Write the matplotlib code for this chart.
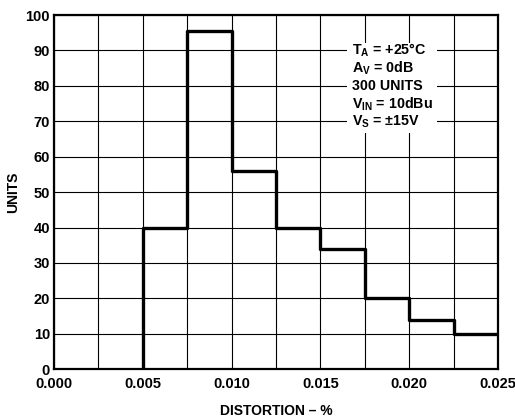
import numpy as np
import matplotlib
matplotlib.use("Agg")
import matplotlib.pyplot as plt
from matplotlib.patches import Rectangle

plt.rcParams["font.family"] = ["Liberation Sans", "DejaVu Sans"]
plt.rcParams["font.weight"] = "bold"
plt.rcParams["mathtext.fontset"] = "custom"
plt.rcParams["mathtext.rm"] = "Liberation Sans:bold"
plt.rcParams["mathtext.it"] = "Liberation Sans:bold"
plt.rcParams["mathtext.bf"] = "Liberation Sans:bold"

# histogram bins (distortion %) and unit counts
bin_edges = [0.005, 0.0075, 0.010, 0.0125, 0.015, 0.0175, 0.020, 0.0225, 0.025]
counts = [40, 95.5, 56, 40, 34, 20, 14, 10]

x_ticks = [0.000, 0.0025, 0.005, 0.0075, 0.010, 0.0125, 0.015, 0.0175, 0.020, 0.0225, 0.025]
x_labels = ["0.000", "", "0.005", "", "0.010", "", "0.015", "", "0.020", "", "0.025"]
y_ticks = [0, 10, 20, 30, 40, 50, 60, 70, 80, 90, 100]

notes = ["T$_A$ = +25°C", "A$_V$ = 0dB", "300 UNITS", "V$_{IN}$ = 10dBu", "V$_S$ = ±15V"]

fig = plt.figure(figsize=(5.15, 4.19), dpi=100)
ax = fig.add_axes([0.105, 0.119, 0.862, 0.845])

xs = np.r_[bin_edges[0], bin_edges]
ys = np.r_[0, counts, counts[-1]]
ax.step(xs, ys, where="post", color="black", linewidth=2.4, zorder=5)

ax.set_xlim(0, 0.025)
ax.set_ylim(0, 100)
ax.set_xticks(x_ticks)
ax.set_xticklabels(x_labels)
ax.set_yticks(y_ticks)
ax.tick_params(length=0, labelsize=10.5, pad=3)
ax.tick_params(axis="x", pad=6)
ax.grid(True, color="black", linewidth=0.8)
for s in ax.spines.values():
    s.set_linewidth(1.6)

# white box behind the conditions text
ax.add_patch(Rectangle((0.0165, 66.7), 0.00507, 25.3, facecolor="white",
                       edgecolor="none", zorder=3))
for i, t in enumerate(notes):
    ax.text(0.01678, 88.7 - 5 * i, t, fontsize=10.3, fontweight="bold",
            va="baseline", ha="left", zorder=4)

ax.set_xlabel("DISTORTION – %", fontsize=10, fontweight="bold", labelpad=9)
ax.set_ylabel("UNITS", fontsize=10, fontweight="bold", labelpad=4)

fig.savefig("out.png", dpi=100)
